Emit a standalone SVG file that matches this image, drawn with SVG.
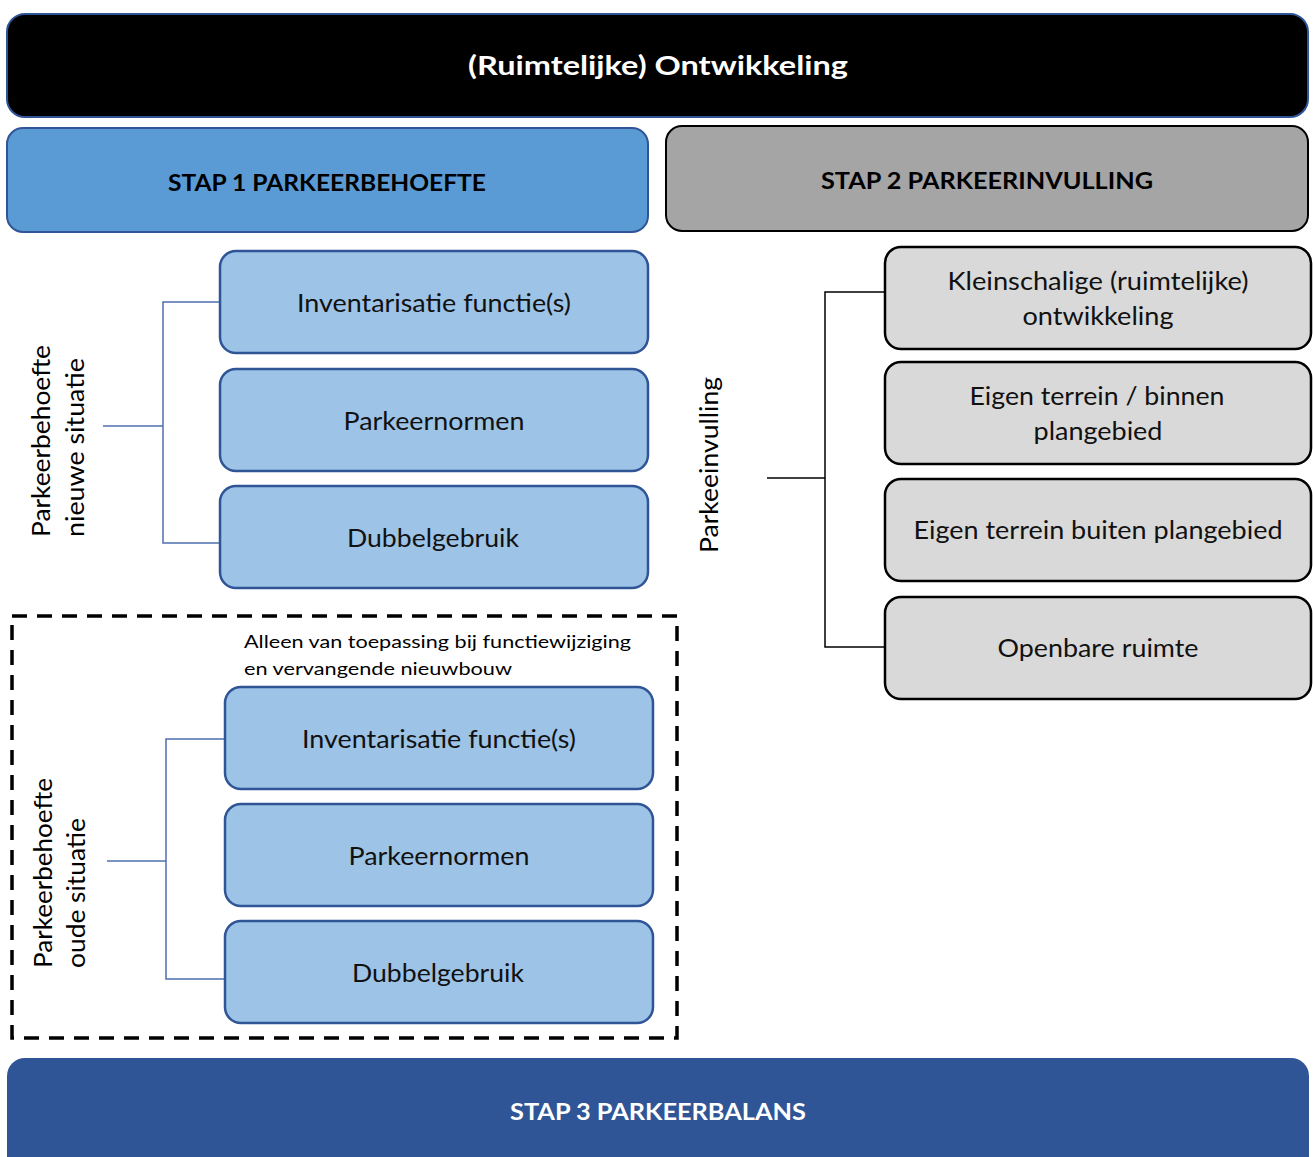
<svg xmlns="http://www.w3.org/2000/svg" width="1313" height="1157" viewBox="0 0 1313 1157">
<style>
text{font-family:Lato,"Open Sans","Liberation Sans",sans-serif;}
.blue{fill:#9DC3E6;stroke:#2F5597;stroke-width:2.5;}
.grey{fill:#D9D9D9;stroke:#000;stroke-width:2.5;}
.t{font-size:25px;fill:#111;text-anchor:middle;}
.h{font-size:23px;font-weight:bold;fill:#000;text-anchor:middle;}
.w{font-size:27px;font-weight:bold;fill:#fff;text-anchor:middle;}
.side{font-size:25px;fill:#000;}
.note{font-size:18px;fill:#000;}
.bl{fill:none;stroke:#4F6FAD;stroke-width:1.5;}
.kl{fill:none;stroke:#000;stroke-width:1.5;}
</style>
<rect width="1313" height="1157" fill="#fff"/>

<g id="title">
<rect x="7" y="14" width="1301" height="103" rx="18" fill="#000" stroke="#2F5597" stroke-width="2"/>
<text class="w" x="658" y="75" textLength="380" lengthAdjust="spacingAndGlyphs">(Ruimtelijke) Ontwikkeling</text>
</g>

<g id="stap1">
<rect x="7" y="128" width="641" height="104" rx="16" fill="#5B9BD5" stroke="#2F5597" stroke-width="2"/>
<text class="h" x="327" y="191" textLength="318" lengthAdjust="spacingAndGlyphs">STAP 1 PARKEERBEHOEFTE</text>
</g>

<g id="stap2">
<rect x="666" y="126" width="642" height="105" rx="16" fill="#A5A5A5" stroke="#000" stroke-width="2"/>
<text class="h" x="987" y="189" textLength="332" lengthAdjust="spacingAndGlyphs">STAP 2 PARKEERINVULLING</text>
</g>

<g id="stap3">
<rect x="7" y="1058" width="1302" height="120" rx="18" fill="#2F5597"/>
<text class="w" style="font-size:23px" x="658" y="1120" textLength="296" lengthAdjust="spacingAndGlyphs">STAP 3 PARKEERBALANS</text>
</g>

<g id="connectors">
<polyline class="bl" points="220,302 163,302 163,543 220,543"/>
<line class="bl" x1="103" y1="426" x2="163" y2="426"/>
<polyline class="bl" points="225,739 166,739 166,979 225,979"/>
<line class="bl" x1="107" y1="861" x2="166" y2="861"/>
<polyline class="kl" points="885,292 825,292 825,647 885,647"/>
<line class="kl" x1="767" y1="478" x2="825" y2="478"/>
</g>

<g id="label-nieuw">
<text class="side" transform="translate(50,537) rotate(-90)" textLength="192" lengthAdjust="spacingAndGlyphs">Parkeerbehoefte</text>
<text class="side" transform="translate(84,537) rotate(-90)" textLength="179" lengthAdjust="spacingAndGlyphs">nieuwe situatie</text>
</g>

<g id="n-inventarisatie">
<rect class="blue" x="220" y="251" width="428" height="102" rx="16"/>
<text class="t" x="434" y="312" textLength="274" lengthAdjust="spacingAndGlyphs">Inventarisatie functie(s)</text>
</g>
<g id="n-parkeernormen">
<rect class="blue" x="220" y="369" width="428" height="102" rx="16"/>
<text class="t" x="434" y="430" textLength="181" lengthAdjust="spacingAndGlyphs">Parkeernormen</text>
</g>
<g id="n-dubbelgebruik">
<rect class="blue" x="220" y="486" width="428" height="102" rx="16"/>
<text class="t" x="433" y="547" textLength="172" lengthAdjust="spacingAndGlyphs">Dubbelgebruik</text>
</g>

<g id="oude-situatie">
<rect x="12" y="616" width="665" height="422" fill="none" stroke="#000" stroke-width="3.5" stroke-dasharray="15,10"/>
<text class="note" x="244" y="648" textLength="387" lengthAdjust="spacingAndGlyphs">Alleen van toepassing bij functiewijziging</text>
<text class="note" x="244" y="675" textLength="268" lengthAdjust="spacingAndGlyphs">en vervangende nieuwbouw</text>
<text class="side" transform="translate(52,968) rotate(-90)" textLength="190" lengthAdjust="spacingAndGlyphs">Parkeerbehoefte</text>
<text class="side" transform="translate(85,968) rotate(-90)" textLength="150" lengthAdjust="spacingAndGlyphs">oude situatie</text>
</g>

<g id="o-inventarisatie">
<rect class="blue" x="225" y="687" width="428" height="102" rx="16"/>
<text class="t" x="439" y="748" textLength="274" lengthAdjust="spacingAndGlyphs">Inventarisatie functie(s)</text>
</g>
<g id="o-parkeernormen">
<rect class="blue" x="225" y="804" width="428" height="102" rx="16"/>
<text class="t" x="439" y="865" textLength="181" lengthAdjust="spacingAndGlyphs">Parkeernormen</text>
</g>
<g id="o-dubbelgebruik">
<rect class="blue" x="225" y="921" width="428" height="102" rx="16"/>
<text class="t" x="438" y="982" textLength="172" lengthAdjust="spacingAndGlyphs">Dubbelgebruik</text>
</g>

<g id="label-invulling">
<text class="side" transform="translate(718,553) rotate(-90)" textLength="176" lengthAdjust="spacingAndGlyphs">Parkeeinvulling</text>
</g>

<g id="g-kleinschalig">
<rect class="grey" x="885" y="247" width="426" height="102" rx="16"/>
<text class="t" x="1098" y="290" textLength="301" lengthAdjust="spacingAndGlyphs">Kleinschalige (ruimtelijke)</text>
<text class="t" x="1098" y="325" textLength="151" lengthAdjust="spacingAndGlyphs">ontwikkeling</text>
</g>
<g id="g-eigen-binnen">
<rect class="grey" x="885" y="362" width="426" height="102" rx="16"/>
<text class="t" x="1097" y="405" textLength="255" lengthAdjust="spacingAndGlyphs">Eigen terrein / binnen</text>
<text class="t" x="1098" y="440" textLength="129" lengthAdjust="spacingAndGlyphs">plangebied</text>
</g>
<g id="g-eigen-buiten">
<rect class="grey" x="885" y="479" width="426" height="102" rx="16"/>
<text class="t" x="1098" y="539" textLength="369" lengthAdjust="spacingAndGlyphs">Eigen terrein buiten plangebied</text>
</g>
<g id="g-openbaar">
<rect class="grey" x="885" y="597" width="426" height="102" rx="16"/>
<text class="t" x="1098" y="657" textLength="201" lengthAdjust="spacingAndGlyphs">Openbare ruimte</text>
</g>
</svg>
